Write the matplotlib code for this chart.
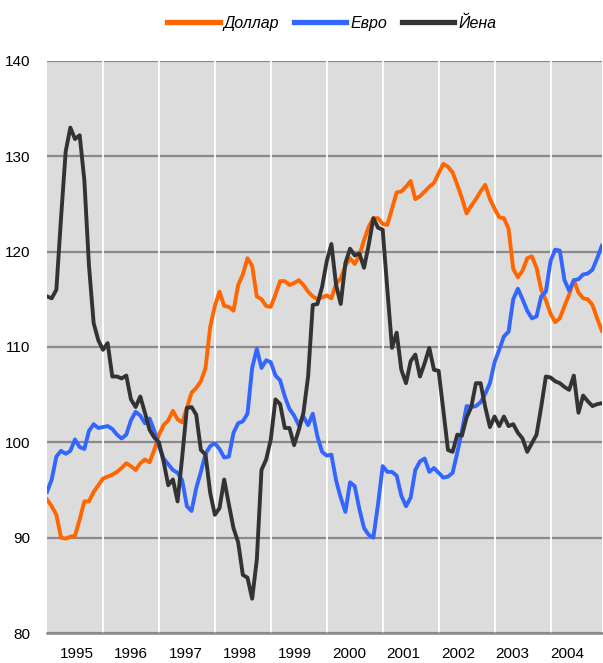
import numpy as np
import matplotlib
matplotlib.use("Agg")
import matplotlib.pyplot as plt

plt.rcParams["font.family"] = ["Liberation Sans", "DejaVu Sans"]

# monthly index values, Jan 1995 .. Dec 2004
years = ["1995", "1996", "1997", "1998", "1999", "2000", "2001", "2002", "2003", "2004"]

dollar = [
    94.0, 93.3, 92.4, 90.0, 89.9, 90.1, 90.2, 91.9, 93.8, 93.8, 94.8, 95.5,
    96.2, 96.4, 96.6, 96.9, 97.3, 97.8, 97.5, 97.1, 97.8, 98.2, 97.9, 99.2,
    100.8, 101.8, 102.3, 103.3, 102.4, 102.1, 103.6, 105.2, 105.7, 106.4, 107.8, 112.1,
    114.3, 115.8, 114.3, 114.2, 113.8, 116.5, 117.6, 119.3, 118.5, 115.3, 115.0, 114.3,
    114.2, 115.5, 116.9, 116.9, 116.5, 116.7, 117.0, 116.5, 115.8, 115.3, 115.0, 115.2,
    115.4, 115.1, 116.6, 117.2, 118.5, 119.3, 118.7, 119.6, 121.2, 122.6, 123.5, 123.5,
    122.9, 122.8, 124.5, 126.2, 126.3, 126.8, 127.4, 125.5, 125.8, 126.3, 126.8, 127.2,
    128.2, 129.2, 128.9, 128.3, 127.0, 125.6, 124.0, 124.8, 125.5, 126.3, 127.0, 125.5,
    124.5, 123.6, 123.5, 122.4, 118.2, 117.3, 118.0, 119.3, 119.5, 118.3, 116.0, 114.9,
    113.5, 112.6, 113.0, 114.3, 115.5, 117.0, 115.7, 115.1, 115.0, 114.4, 113.0, 111.7,
]

euro = [
    94.8, 96.1, 98.5, 99.1, 98.8, 99.1, 100.3, 99.5, 99.3, 101.2, 101.9, 101.5,
    101.6, 101.7, 101.4, 100.8, 100.4, 100.8, 102.3, 103.2, 102.8, 102.0, 102.5, 101.2,
    99.6, 98.3, 97.7, 97.1, 96.8, 96.0, 93.3, 92.8, 95.2, 96.9, 98.8, 99.6,
    99.9, 99.3, 98.4, 98.5, 101.0, 102.0, 102.2, 103.0, 107.8, 109.8, 107.8, 108.6,
    108.4, 107.0, 106.5, 104.8, 103.5, 102.8, 101.8, 102.7, 101.8, 103.0, 100.6, 99.0,
    98.6, 98.7, 96.0, 94.2, 92.7, 95.8, 95.4, 93.0, 91.0, 90.3, 90.0, 93.5,
    97.5, 96.9, 96.9, 96.5, 94.4, 93.3, 94.2, 97.1, 98.0, 98.3, 96.9, 97.3,
    96.8, 96.3, 96.4, 96.8, 98.9, 101.2, 103.8, 103.7, 103.8, 104.2, 105.1, 106.2,
    108.4, 109.7, 111.1, 111.6, 115.0, 116.1, 115.0, 113.8, 113.0, 113.2, 115.3, 115.8,
    119.0, 120.2, 120.1, 117.0, 115.9, 117.0, 117.1, 117.6, 117.7, 118.1, 119.3, 120.6,
]

yen = [
    115.3, 115.1, 116.0, 123.5, 130.5, 133.0, 131.8, 132.2, 127.5, 118.5, 112.5, 110.7,
    109.7, 110.4, 106.9, 106.9, 106.7, 107.0, 104.5, 103.7, 104.8, 103.1, 101.3, 100.5,
    100.0, 98.0, 95.5, 96.1, 93.8, 98.5, 103.6, 103.7, 102.9, 99.2, 98.7, 94.7,
    92.4, 93.1, 96.1, 93.5, 91.0, 89.5, 86.1, 85.8, 83.6, 87.7, 97.1, 98.2,
    100.3, 104.5, 104.0, 101.5, 101.5, 99.7, 101.3, 103.1, 106.9, 114.4, 114.5, 116.3,
    119.0, 120.8, 116.5, 114.5, 118.8, 120.3, 119.6, 119.8, 118.3, 120.7, 123.5, 122.5,
    122.3, 116.0, 109.9, 111.5, 107.6, 106.2, 108.5, 109.2, 106.9, 108.3, 109.9, 107.6,
    107.5, 103.4, 99.2, 99.0, 100.8, 100.7, 102.6, 103.7, 106.2, 106.2, 103.7, 101.6,
    102.7, 101.7, 102.7, 101.7, 101.9, 101.0, 100.4, 99.0, 99.9, 100.8, 103.7, 106.9,
    106.8, 106.4, 106.2, 105.8, 105.5, 107.0, 103.1, 104.9, 104.3, 103.8, 104.0, 104.1,
]

series = [
    ("Доллар", dollar, "#FF6600"),
    ("Евро", euro, "#3366FF"),
    ("Йена", yen, "#333333"),
]

months = np.arange(len(dollar))

fig = plt.figure(figsize=(6.03, 6.63), dpi=100)
ax = fig.add_axes([0.078, 0.0452, 0.92, 0.863])
ax.set_facecolor("#DCDCDC")

for name, vals, col in series:
    ax.plot(months, vals, color=col, lw=2.8, label=name, solid_joinstyle="round")

ax.set_xlim(0, len(months) - 1)
ax.set_ylim(80, 140)
ax.set_yticks(np.arange(80, 141, 10))
ax.yaxis.grid(True, color="#8A8A8A", lw=1.6)

# white separators between years
for k in range(1, len(years)):
    ax.axvline(12 * k, color="white", lw=1.3, zorder=1)

label_pos = 6.4 + np.arange(len(years)) * 11.68
ax.set_xticks(label_pos)
ax.set_xticklabels(years)
ax.tick_params(axis="x", length=0, pad=10, labelsize=11)
ax.tick_params(axis="y", length=0, pad=12, labelsize=11)
ax.set_axisbelow(True)

for s in ["top", "right", "left"]:
    ax.spines[s].set_visible(False)
ax.spines["bottom"].set_color("#8A8A8A")
ax.spines["bottom"].set_linewidth(1.8)

handles, labels = ax.get_legend_handles_labels()
leg = fig.legend(handles, labels, loc="center", bbox_to_anchor=(0.55, 0.965),
                 ncol=3, frameon=False, handlelength=3.3, handletextpad=0.25,
                 columnspacing=0.9, prop={"style": "italic", "size": 11.5})
for line in leg.get_lines():
    line.set_linewidth(3.8)

fig.savefig("out.png", dpi=100)
